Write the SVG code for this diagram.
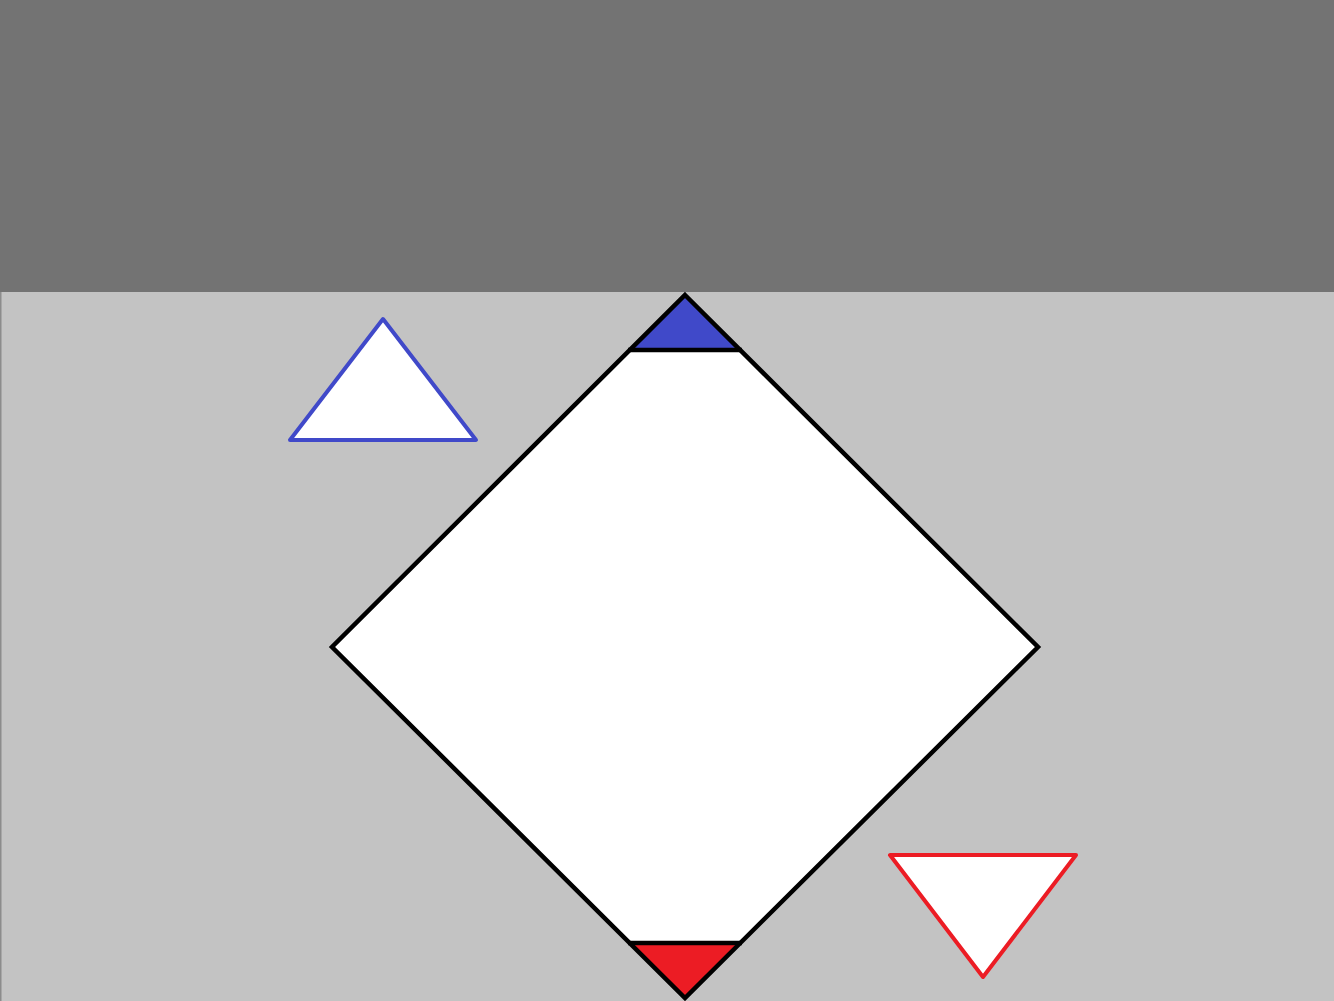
<svg xmlns="http://www.w3.org/2000/svg" width="1334" height="1001" viewBox="0 0 1334 1001">
<style>
.edge{stroke:#000;stroke-width:4.5;stroke-linejoin:miter;fill:none}
</style>
<rect x="0" y="0" width="1334" height="1001" fill="#c3c3c3"/>
<rect x="0" y="0" width="1334" height="292" fill="#737373"/>
<rect x="0" y="292" width="1.5" height="709" fill="#8c8c8c"/>
<g id="diamond">
<polygon points="685,295 1038,647 685,998 332,647" fill="#ffffff"/>
<polygon points="685,295 742,350 628,350" fill="#4049c9"/>
<polygon points="685,998 742,943 628,943" fill="#ec1c24"/>
<line class="edge" x1="628" y1="350" x2="742" y2="350"/>
<line class="edge" x1="628" y1="943" x2="742" y2="943"/>
<polygon class="edge" points="685,295 1038,647 685,998 332,647"/>
</g>
<g id="blue-triangle">
<polygon points="383,319 476,440 290,440" fill="#ffffff" stroke="#4049c9" stroke-width="4" stroke-linejoin="round"/>
</g>
<g id="red-triangle">
<polygon points="890,855 1076,855 983,977" fill="#ffffff" stroke="#ec1c24" stroke-width="4" stroke-linejoin="round"/>
</g>
</svg>
